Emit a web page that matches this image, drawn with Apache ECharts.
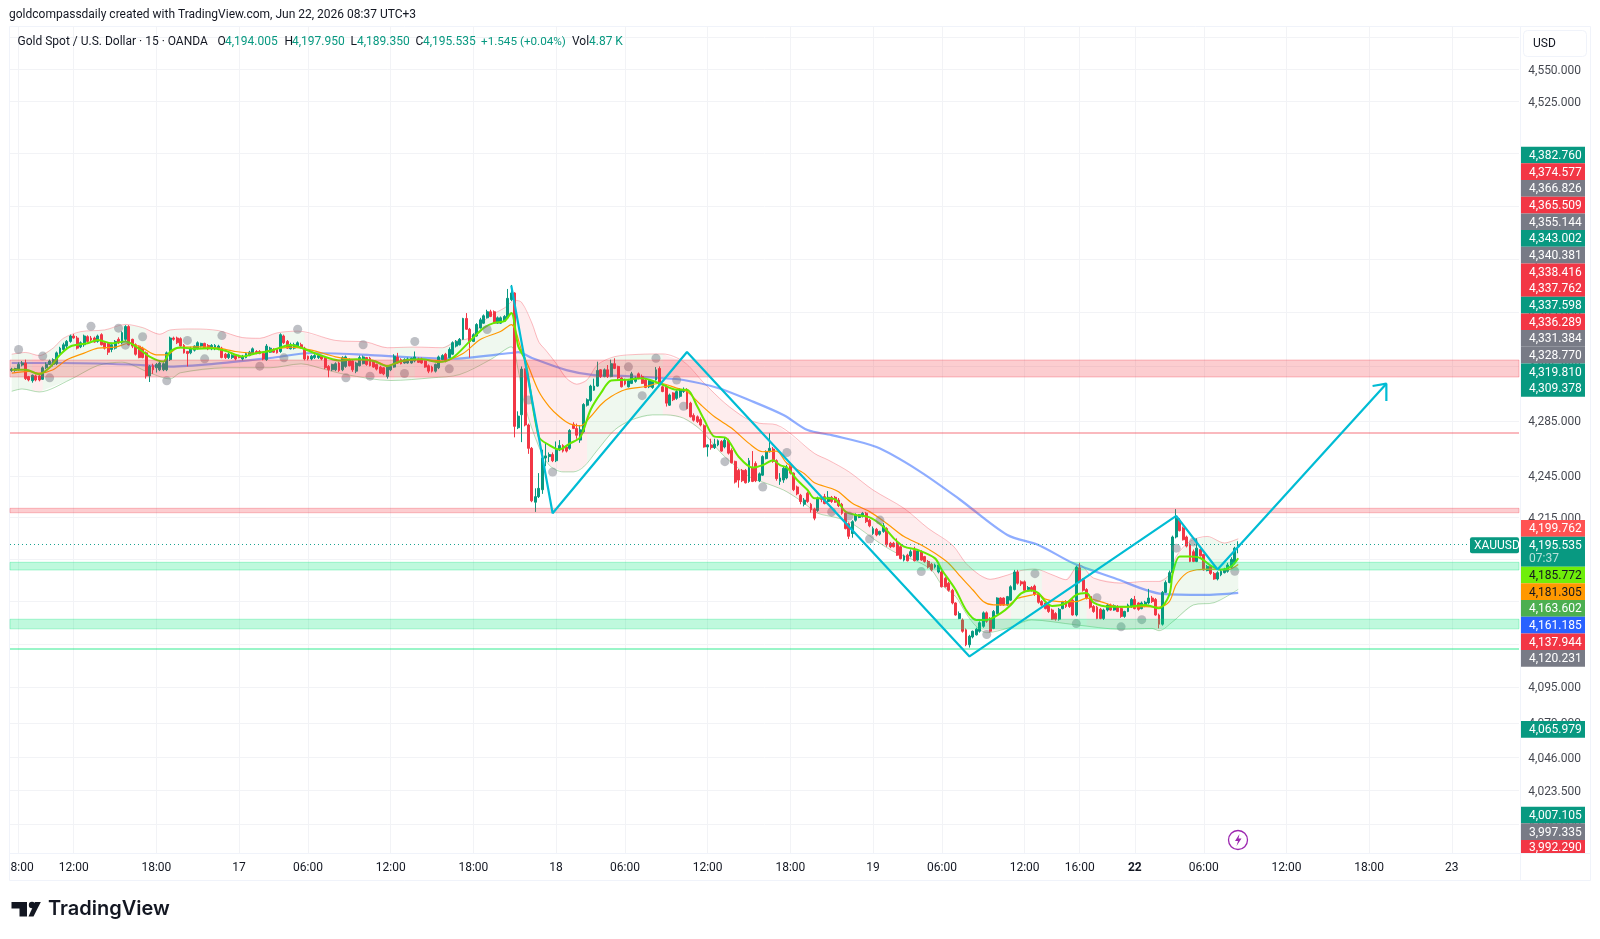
<!DOCTYPE html>
<html>
<head>
<meta charset="utf-8">
<title>XAUUSD 15m</title>
<script src="https://cdn.jsdelivr.net/npm/echarts@6/dist/echarts.min.js"></script>
<style>
html,body{margin:0;padding:0;background:#fff;}
#chart{width:1600px;height:939px;}
</style>
</head>
<body>
<div id="chart"></div>
<script>
// Candles per trading day: [open, close, low, high]
const jun16 = [
[4322,4323,4321,4324],[4322,4323.5,4321,4324],[4322.5,4326.5,4322,4328],[4326,4327.5,4325,4329],[4327.5,4316,4315,4330],
[4317.5,4315,4314,4318],[4314.5,4318.5,4313,4319],[4318,4315,4314,4319],[4318,4315,4314,4319],[4315.5,4324,4315,4325],
[4324,4326.5,4323,4328],[4326.5,4329,4326,4330],[4326.5,4330,4325,4331],[4327,4335,4326,4336],[4334.5,4338.5,4334,4339.5],
[4337.5,4341,4336.5,4342.5],[4340,4343.5,4338.5,4344.5],[4343.5,4347.5,4342.5,4348.5],[4347.5,4346,4345.5,4349],[4346,4338.5,4337.5,4347.5],
[4339.5,4342.5,4338.5,4343.5],[4341,4347.5,4339.5,4348.5],[4347,4343.5,4342.5,4348],[4346,4344.5,4343.5,4347.5],[4346,4343,4342.5,4347],
[4343.5,4347.5,4342.5,4348.5],[4348.5,4341,4340.5,4349.5],[4342.5,4338.5,4337.5,4343.5],[4342,4335.5,4333.5,4342.5],[4337.5,4341,4335.5,4342.5],
[4338.5,4343.5,4337.5,4344.5],[4345,4342.5,4341.5,4346.5],[4342.5,4350,4341.5,4351],[4345,4354.5,4343.5,4355.5],[4354.5,4341,4340.5,4355.5],
[4345,4340,4338.5,4345.5],[4341,4334,4333,4342],[4340,4331.5,4331,4340.5],[4338.5,4331.5,4331,4339.5],[4335,4318,4316,4336],
[4318,4325,4313.5,4326],[4325.5,4322.5,4319.5,4327],[4324,4326.5,4320.5,4327.5],[4322.5,4327.5,4321.5,4328.5],[4322.5,4327,4321.5,4328],
[4322.5,4335,4321.5,4336],[4330,4346,4329,4347],[4346,4345,4344,4347],[4346,4342.5,4341.5,4347],[4345.5,4340,4339.5,4346.5],
[4340.5,4335,4334.5,4341.5],[4336,4334.5,4325,4336.5],[4335,4338.5,4334,4339.5],[4337,4340,4336,4340.5],[4338.5,4342.5,4337.5,4343.5],
[4340,4342,4339,4342.5],[4342,4338.5,4338,4342.5],[4340.5,4338,4337,4341.5],[4338,4340.5,4337,4341.5],[4338,4340.5,4337,4341.5],
[4338,4340,4337,4341],[4338.5,4331.5,4331,4339.5],[4334,4331.5,4330.5,4335],[4331.5,4334,4330.5,4335],[4331.5,4333,4330.5,4334],
[4333,4330.5,4329.5,4334]
];
const jun17 = [
[4332.5,4331.5,4331,4333.5],[4330.5,4332.5,4329.5,4333.5],[4331.5,4334.5,4331,4335.5],[4333,4335.5,4332.5,4336.5],[4334.5,4338,4334,4339],
[4336,4334.5,4334,4337],[4336,4334.5,4334,4337],[4334.5,4330.5,4329.5,4335],[4330,4340,4329,4341.5],[4335.5,4338.5,4335,4339.5],
[4337.5,4335.5,4335,4338.5],[4337.5,4335,4334.5,4338.5],[4336,4348.5,4335,4349.5],[4347.5,4342.5,4341.5,4348.5],[4343.5,4338.5,4338,4344.5],
[4338,4341,4337.5,4342.5],[4338.5,4341,4337.5,4342.5],[4340,4342.5,4339,4343.5],[4341,4338.5,4338,4342.5],[4338.5,4330.5,4329.5,4339.5],
[4332.5,4330.5,4329.5,4333],[4330.5,4332.5,4329.5,4333.5],[4331.5,4333,4330.5,4334],[4331.5,4333,4330.5,4334],[4332.5,4330.5,4329.5,4333.5],
[4331.5,4324,4323,4332.5],[4325,4322.5,4317,4326],[4322.5,4326.5,4321.5,4327],[4322.5,4327,4321.5,4328],[4327.5,4322,4321,4328.5],
[4322.5,4331.5,4321.5,4332.5],[4325,4332,4324,4333],[4330,4325.5,4325,4331],[4329,4322.5,4321,4329.5],[4321.5,4327.5,4320,4328.5],
[4325.5,4331.5,4325,4333],[4327,4332,4326.5,4333],[4331.5,4326.5,4325.5,4332],[4331,4325.5,4325,4332],[4329,4324.5,4324,4329.5],
[4326.5,4323,4322,4327],[4324.5,4320,4319.5,4325.5],[4324,4319.5,4318.5,4324.5],[4317.5,4325,4316,4326],[4322.5,4325,4321.5,4326],
[4324.5,4332.5,4324,4334],[4332,4327.5,4327,4335],[4330,4327,4326.5,4331],[4327.5,4330,4327,4331],[4327.5,4330.5,4327,4331.5],
[4327.5,4331,4327,4331.5],[4329,4332,4328,4336],[4330.5,4328,4327.5,4331.5],[4330.5,4327.5,4327,4331.5],[4329,4324.5,4324,4329.5],
[4325.5,4321.5,4320,4326.5],[4324.5,4321.5,4320.5,4325.5],[4321.5,4326.5,4320.5,4327],[4324,4332,4323,4333],[4330,4333,4329.5,4334],
[4334,4329,4328,4335],[4331.5,4337.5,4331,4339],[4334,4342.5,4333.5,4343.5],[4340,4343.5,4339,4344.5],[4341,4345,4340.5,4346],
[4345,4360.5,4344.5,4361],[4360.5,4352.5,4352,4364.5],[4352.5,4343.5,4331.5,4353.5],[4343.5,4348.5,4343,4349.5],[4347.5,4356,4347,4357],
[4353.5,4359.5,4353,4361],[4357,4362.5,4356.5,4363.5],[4361,4365.5,4360.5,4367],[4365.5,4362,4361.5,4367],[4365.5,4357,4356.5,4366.5],
[4357,4361,4356.5,4362],[4357,4361,4356.5,4362],[4358.5,4362,4358,4363],[4361,4375.5,4360.5,4382.5],[4374.5,4379.5,4373.5,4385.5],
[4379.5,4281,4273,4380],[4280,4288.5,4279,4292],[4289.5,4323,4269.5,4325],[4323,4282,4281,4323.5],[4282,4265,4261,4283],
[4265,4227,4226,4266],[4226,4230,4219,4236],[4230,4236,4229,4247],[4235,4258,4232,4264],[4258,4259.5,4252,4269],
[4259,4260.5,4255,4262],[4260.5,4256,4255,4262]
];
const jun18 = [
[4256,4264,4255,4270],[4264,4267,4263,4271],[4267,4263,4262,4268],[4266,4263,4262,4267],[4265,4278,4264,4279],
[4282.5,4279.5,4279,4284],[4279.5,4274.5,4272,4283],[4271,4278.5,4269,4282],[4277,4297,4276,4298],[4296.5,4300.5,4295.5,4301.5],
[4300,4310.5,4299,4311.5],[4307.5,4310.5,4307,4316],[4310.5,4322,4310,4328.5],[4322.5,4317.5,4316.5,4323],[4317.5,4322.5,4317,4323.5],
[4322.5,4317.5,4316.5,4326],[4317.5,4327,4317,4330],[4327,4323.5,4323,4331],[4325,4316.5,4315.5,4325.5],[4316.5,4310,4309.5,4317],
[4315,4312,4311,4316],[4310,4314.5,4309.5,4315.5],[4312.5,4319.5,4312,4321],[4314,4316.5,4313,4317.5],[4319.5,4316.5,4315.5,4320.5],
[4317.5,4312.5,4312,4319],[4315,4309.5,4309,4316],[4310,4314.5,4309,4315.5],[4309.5,4314,4308.5,4315],[4315,4322.5,4314.5,4324.5],
[4323.5,4311.5,4311,4325],[4310,4306.5,4306,4311],[4310,4298,4295.5,4311],[4296.5,4304,4296,4305],[4305.5,4300.5,4299.5,4306],
[4301.5,4306.5,4300.5,4307.5],[4303,4308,4302,4309],[4306.5,4308,4305.5,4309.5],[4307.5,4294,4293.5,4309],[4298,4288,4287.5,4299],
[4289,4285.5,4284.5,4290.5],[4288,4284.5,4283.5,4289],[4286,4282,4281,4287.5],[4281.5,4266,4265.5,4282.5],[4266,4267.5,4259,4268],
[4267.5,4265.5,4264,4272],[4265.5,4268,4264.5,4272],[4267.5,4270.5,4266.5,4271.5],[4270,4263,4262.5,4271],[4266,4271,4265,4272.5],
[4270.5,4261.5,4260.5,4272],[4263.5,4254.5,4254,4265],[4255.5,4240.5,4239.5,4256],[4249,4242,4236.5,4250],[4249,4241.5,4240.5,4250],
[4249,4240,4239.5,4250],[4241,4256,4240,4258],[4251,4241,4240.5,4263],[4254,4241.5,4240.5,4255.5],[4241.5,4246.5,4240.5,4247.5],
[4245.5,4259,4245,4260],[4257.5,4262.5,4257,4263.5],[4262.5,4265,4262,4276],[4264.5,4255.5,4254.5,4266],[4256,4243,4241.5,4257],
[4241,4243.5,4238.5,4247],[4242,4250.5,4240,4252],[4243.5,4251.5,4242.5,4253],[4253,4247,4246,4254.5],[4247,4235,4234,4247.5],
[4237,4232,4231,4238],[4231,4226.5,4224.5,4232],[4224.5,4227.5,4223,4229],[4232.5,4226.5,4225.5,4233.5],[4224.5,4220.5,4218.5,4225.5],
[4221,4214.5,4213,4222],[4220,4229,4219,4230],[4229,4228,4226,4230],[4230,4225,4224.5,4232],[4226.5,4229.5,4225.5,4234],
[4229.5,4226.5,4225.5,4230.5],[4229.5,4226,4225.5,4230.5],[4227.5,4223.5,4222.5,4229],[4224.5,4218,4217,4225.5],[4218,4207,4206.5,4219],
[4210.5,4201.5,4199.5,4211.5],[4203.5,4212,4200.5,4213],[4213,4217,4212,4218],[4215,4217,4214.5,4217.5],[4216,4218,4215,4219],
[4218,4212,4211,4219],[4213,4209,4208,4214]
];
const jun19 = [
[4203.5,4207,4202.5,4208.5],[4206.5,4202.5,4201.5,4207.5],[4203,4205,4202,4205.5],[4205,4209,4204,4211],[4207,4195.5,4194,4208],
[4196.5,4194,4193,4197.5],[4196.5,4194,4193.5,4197.5],[4196.5,4188,4187.5,4200],[4194,4185.5,4185,4195],[4184.5,4187.5,4183.5,4188.5],
[4188,4184,4183.5,4189],[4187.5,4190.5,4186.5,4192],[4191.5,4184,4183.5,4194],[4184.5,4191,4184,4192],[4190.5,4184.5,4184,4191.5],
[4187,4183.5,4182.5,4187.5],[4183.5,4179.5,4178.5,4184.5],[4181.5,4177.5,4176.5,4182.5],[4179.5,4181,4178.5,4182],[4176,4181,4175,4182],
[4176,4165.5,4165,4177],[4171.5,4165.5,4165,4172.5],[4168,4163,4162,4169],[4163,4154,4153,4164],[4154,4145.5,4145,4154.5],
[4143,4146.5,4142.5,4148],[4142,4134,4133,4143],[4135,4124.5,4123.5,4136],[4124.5,4130.5,4122.5,4131.5],[4130,4134,4129,4134.5],
[4131.5,4135.5,4131,4136.5],[4134,4140,4133,4141],[4137.5,4147,4136.5,4148],[4147,4141,4140,4148],[4143,4134,4133,4144],
[4136,4148,4135.5,4149],[4146.5,4157.5,4146,4158],[4157.5,4152.5,4152,4158],[4157.5,4152.5,4152,4158],[4152.5,4158.5,4152,4159],
[4156,4165.5,4155.5,4166.5],[4163.5,4176,4163,4177.5],[4176,4168,4167,4177.5],[4169,4167.5,4166,4170],[4169,4163,4162.5,4170],
[4163.5,4165,4162.5,4166],[4165,4163,4162,4166],[4166,4160,4159,4167],[4160.5,4154.5,4153.5,4161],[4155,4152.5,4152,4156],
[4154,4150,4149.5,4154.5],[4152.5,4148,4147,4153.5],[4149,4142.5,4142,4150],[4146.5,4142.5,4141.5,4147.5],[4142.5,4149.5,4141.5,4150.5],
[4150,4154.5,4149.5,4155.5],[4155,4151.5,4150.5,4156],[4155,4151.5,4150.5,4156],[4156,4145.5,4145,4157],[4145.5,4179.5,4144.5,4180.5],
[4179,4169.5,4168,4182.5],[4170.5,4163,4162,4171.5],[4163.5,4157.5,4156.5,4164.5],[4158.5,4151,4150,4159.5],[4151.5,4148,4147,4152.5],
[4151,4143,4142.5,4152],[4149.5,4143,4142.5,4150.5],[4143,4149,4142,4150],[4149,4152.5,4148,4153.5],[4152.5,4149,4148.5,4153.5],
[4149,4152,4148.5,4153],[4151.5,4148,4147.5,4152.5],[4150,4144.5,4143.5,4151],[4144.5,4148,4143.5,4148.5],[4148,4152.5,4147.5,4153.5],
[4151.5,4156.5,4150.5,4157.5]
];
const jun22 = [
[4156.5,4150,4149.5,4159],[4154,4149.5,4148.5,4154.5],[4150,4154,4149.5,4155],[4152,4154.5,4151,4155.5],[4154,4157.5,4153,4164],
[4157.5,4155,4154,4159],[4156.5,4145.5,4145,4157.5],[4145.5,4139,4136,4146.5],[4139,4161.5,4138,4162.5],[4161.5,4168.5,4161,4170],
[4168.5,4175.5,4168,4177],[4175.5,4201,4175,4202],[4201,4214.5,4200,4221],[4213,4205.5,4205,4214.5],[4207.5,4199,4198.5,4208.5],
[4201,4194.5,4193.5,4202],[4195.5,4183.5,4183,4196.5],[4190.5,4183.5,4183,4192],[4183.5,4193,4183,4200],[4192,4187.5,4187,4193],
[4188.5,4177.5,4177,4189],[4177,4180,4176.5,4181],[4180,4175,4174,4181],[4175,4171,4170.5,4176],[4171,4175.5,4170,4176.5],
[4174,4176.5,4173,4177.5],[4175.5,4178,4175,4179],[4176.5,4181,4175.5,4182.5],[4179.5,4185,4178.5,4186.5],[4182.5,4193,4181.5,4194],
[4194.005,4195.535,4189.35,4197.95]
];

// Moving averages and envelope read at selected bars: [bar slot, price]
const fastMa = [[0,4322.5],[4,4322.5],[8,4319.3],[11,4324.2],[14,4333.5],[17,4339.7],[22,4342.1],[25,4344.6],[29,4342.1],[33,4343.4],[36,4339.7],[40,4332.3],[44,4328.6],[46,4336],[49,4339],[53,4338],[58,4338.5],[62,4336.5],[67,4332.3],[71,4334.7],[75,4336.4],[81,4340.8],[84,4338.8],[89,4333.8],[95,4329.4],[100,4330.2],[105,4329],[109,4325.2],[113,4329],[119,4330.2],[124,4328.2],[128,4331.4],[133,4343.7],[137,4353.5],[140,4357.2],[143,4358.5],[145,4364.6],[147,4340],[149,4329.8],[153,4273.5],[156,4267.4],[159,4264.2],[162,4268.6],[165,4273],[168,4293],[171,4305.3],[174,4314.6],[178,4315.1],[183,4316.3],[188,4312.6],[193,4307.8],[196,4307.8],[199,4295.5],[201,4285.8],[204,4273.5],[207,4273],[211,4258.9],[215,4251],[218,4252.8],[221,4256.4],[223,4252.8],[225,4251],[228,4242],[231,4234.8],[233,4228.8],[236,4228.8],[239,4228],[242,4219.2],[245,4216.8],[249,4215.1],[253,4208.4],[256,4200.1],[259,4194.1],[263,4191.7],[268,4185.7],[270,4177.4],[274,4163.2],[277,4149],[280,4142],[283,4142],[287,4146.7],[290,4152.6],[293,4160.8],[296,4162.8],[298,4161],[300,4155],[302,4151.9],[306,4153.8],[309,4159.8],[312,4161],[314,4154.3],[319,4151.4],[324,4151.4],[329,4152.6],[333,4150.2],[336,4159.8],[337,4175.2],[339,4187.1],[342,4187.1],[345,4186],[348,4180.5],[351,4177.6],[354,4180],[356,4185.772]];
const midMa = [[0,4320],[5,4321.3],[8,4320],[12,4322.5],[16,4329.9],[21,4334.8],[25,4338.5],[30,4339.2],[34,4342.1],[38,4338.5],[42,4333.5],[45,4333.5],[48,4338.5],[54,4339.4],[60,4338.5],[65,4336],[71,4334.8],[76,4337.5],[81,4339.3],[87,4337],[94,4332.1],[99,4330.2],[105,4329.4],[109,4325.7],[114,4329],[119,4330.2],[125,4329],[131,4334.6],[136,4344.9],[142,4351],[145,4356],[148,4337],[150,4324.9],[153,4306.5],[156,4295.5],[159,4288],[162,4282.8],[165,4281.3],[168,4288],[171,4296.8],[174,4302.8],[178,4307.8],[184,4310.2],[188,4312.6],[193,4309],[196,4306.5],[200,4296.8],[204,4288],[209,4279.6],[214,4268.6],[218,4262.5],[222,4263],[225,4254.1],[230,4246.8],[233,4240],[238,4235.9],[240,4233.5],[244,4225.2],[249,4219.2],[254,4210.7],[259,4201.3],[264,4195.3],[268,4189.3],[272,4182.1],[275,4173.8],[279,4163.2],[282,4155],[285,4152.6],[289,4152.6],[292,4157.3],[296,4159.6],[298,4160.5],[300,4156.7],[304,4155],[309,4155],[312,4157.4],[316,4155],[322,4151],[329,4151.4],[333,4151],[336,4155],[338,4166.9],[341,4175.2],[344,4177.6],[348,4178.1],[353,4177.6],[356,4181.305]];
const slowMa = [[0,4327.5],[14,4327.5],[34,4326.4],[46,4324.9],[58,4326.7],[75,4331.2],[87,4334.9],[104,4333.4],[127,4330.7],[145,4334.9],[147,4335.6],[151,4331.2],[161,4322.3],[169,4318.6],[177,4318],[188,4316.5],[195,4315],[205,4309.1],[214,4300.3],[224,4289.3],[231,4278.3],[238,4274.6],[251,4265.9],[263,4249.2],[275,4228.3],[289,4202.4],[298,4195.3],[308,4182.4],[320,4171.7],[334,4160.4],[346,4159.7],[356,4161.185]];
const upperBand = [[0,4334],[4,4335.3],[8,4333],[12,4338.5],[15,4345.8],[20,4350.7],[27,4352],[33,4356.1],[38,4353.7],[43,4348.8],[46,4352],[53,4352.7],[60,4351.5],[67,4346.3],[72,4345.8],[77,4349.8],[83,4351.1],[94,4344.2],[103,4343],[109,4338.8],[117,4339.3],[125,4338.8],[129,4343.7],[133,4346.2],[138,4360.9],[143,4368.3],[146,4374],[148,4372.5],[151,4357],[153,4343],[155,4337],[158,4327.3],[161,4316.3],[164,4311.9],[167,4315.1],[170,4326.1],[175,4332.2],[182,4333.9],[189,4334.2],[195,4328.5],[201,4312.6],[207,4298],[213,4287],[217,4283.3],[222,4282.1],[233,4261.3],[237,4256.5],[243,4248],[250,4234.8],[259,4221.6],[266,4207.2],[273,4195.3],[277,4182.1],[281,4173.8],[284,4170.8],[289,4173.8],[293,4177.1],[297,4178.1],[302,4174],[306,4170.5],[309,4180],[310,4181],[314,4171.7],[322,4168.1],[329,4169.3],[333,4169.3],[336,4174],[338,4187.1],[342,4197.9],[347,4201.4],[352,4196.7],[356,4199.762]];
const lowerBand = [[0,4306.7],[3,4308.4],[8,4306.2],[17,4315.3],[25,4325.7],[32,4328.1],[40,4320.3],[46,4315.8],[49,4320.3],[62,4324],[75,4324],[84,4326.9],[91,4322.7],[97,4319],[110,4314.6],[122,4316.6],[130,4319],[139,4330.1],[145,4339.5],[147,4322.4],[149,4295.5],[153,4266.2],[156,4252.8],[160,4247.9],[163,4247.9],[166,4251.5],[170,4263.7],[175,4278.4],[180,4285.8],[186,4289.4],[190,4289.4],[195,4287],[200,4278.4],[206,4261.3],[211,4250.3],[215,4243],[218,4240.5],[224,4234.8],[228,4228.8],[231,4223.3],[234,4218],[239,4215.1],[243,4211.9],[246,4207.2],[252,4196.5],[257,4189.3],[263,4183.3],[267,4177.4],[270,4166.7],[274,4158.5],[277,4146.7],[280,4137.3],[283,4133],[289,4136.1],[296,4142],[309,4138.5],[322,4135.4],[331,4136],[333,4134.4],[337,4140.8],[343,4152.6],[349,4154.2],[356,4163.602]];

// Stretches of the envelope shaded by trend: [from slot, to slot, trend]
const bandTrend = [[0,6,'up'],[6,9,'down'],[9,39,'up'],[39,45,'down'],[45,61,'up'],[61,78,'down'],[78,85,'up'],[85,111,'down'],[111,117,'up'],[117,124,'down'],[124,146,'up'],[146,167,'down'],[167,189,'up'],[189,290,'down'],[290,299,'up'],[299,309,'down'],[309,312,'up'],[312,334,'down'],[334,356,'up']];

// Grey markers: [slot, price]
const greyDots = [[2,4337.5],[9,4332.6],[11,4316.6],[23,4354.7],[31,4353.3],[33,4340.7],[38,4346.9],[45,4314.4],[51,4344.2],[56,4330.6],[61,4347.8],[72,4325.2],[79,4331.3],[83,4352.5],[97,4316.6],[102,4341],[104,4317.8],[114,4319.8],[117,4343.4],[127,4323.2],[138,4352.3],[150,4300.3],[157,4247.8],[179,4324.7],[183,4303.5],[187,4331],[193,4315],[195,4295.7],[207,4255.3],[218,4237],[225,4262],[238,4219],[243,4216],[249,4199.6],[252,4213.1],[264,4176.3],[283,4131.7],[297,4174.8],[309,4139.4],[315,4157.7],[322,4137.1],[328,4142.2],[338,4193],[343,4197.5],[355,4176.5]];

// Hand-drawn zigzag and arrow
const zigzag = [[145,4385],[157,4218],[196,4335.6],[278,4116.3],[338,4216.2],[350,4177.8],[399,4312.3]];
const arrowHead = [[395,4310.6],[399,4312.3],[399,4299.6]];

// Supply and demand levels
const redZones = [[4329.7,4317.2],[4221.6,4218.4]];
const greenZones = [[4182.9,4177.4],[4142.5,4135.7]];
const redLevel = 4276.4;
const greenLevel = 4121.7;
const lastPrice = 4195.535;

// Axis ticks
const priceTicks = [4575,4550,4525,4485,4445,4405,4365,4325,4285,4245,4215,4185,4155,4125,4095,4070,4046,4023.5,4000];
const timeTickSlots = [2,18,42,66,86,110,134,158,178,202,226,250,270,294,310,326,346,370,394,418];
const timeTickLabels = ['8:00','12:00','18:00','17','06:00','12:00','18:00','18','06:00','12:00','18:00','19','06:00','12:00','16:00','22','06:00','12:00','18:00','23'];
const slotCount = 438;

// Right-hand value tags, grouped by stack
const upperTagValues = ['4,382.760','4,374.577','4,366.826','4,365.509','4,355.144','4,343.002','4,340.381','4,338.416','4,337.762','4,337.598','4,336.289','4,331.384','4,328.770','4,319.810','4,309.378'];
const upperTagColors = ['g','r','n','r','n','g','n','r','r','g','r','n','n','g','g'];
const middleTagValues = ['4,199.762','4,185.772','4,181.305','4,163.602','4,161.185','4,137.944','4,120.231'];
const middleTagColors = ['#ff5252','#6fee0a','#ff9800','#4caf50','#2962ff','#f23645','#787b86'];
const middleTagInk = ['#fff','#131722','#131722','#fff','#fff','#fff','#fff'];
const lowerTagValues = ['4,007.105','3,997.335','3,992.290'];
const lowerTagColors = ['g','n','r'];
const singleTag = '4,065.979';

const UP = '#089981', DOWN = '#f23645', NEUTRAL = '#787b86', INK = '#131722';
const FONT = 'Roboto, sans-serif';
const shade = {g: UP, r: DOWN, n: NEUTRAL};

const candles = [].concat(jun16, jun17, jun18, jun19, jun22);
const slots = Array.from({length: slotCount}, (_, i) => String(i));
const labelBySlot = new Map(timeTickSlots.map((s, i) => [s, timeTickLabels[i]]));
labelBySlot.delete(2);
labelBySlot.set(3, '8:00');

const fmtPrice = v => v.toFixed(3).replace(/\B(?=(\d{3})(?!\d))/, ',');

function bandAt(points, slot) {
  for (let i = 1; i < points.length; i++) {
    const [a, pa] = points[i - 1], [b, pb] = points[i];
    if (slot >= a && slot <= b) return pa + (pb - pa) * (slot - a) / (b - a);
  }
  return points[points.length - 1][1];
}
function renderBandFill(params, api) {
  const [from, to, trend] = bandTrend[params.dataIndex];
  const inner = pts => pts.filter(p => p[0] > from && p[0] < to);
  const top = [[from, bandAt(upperBand, from)], ...inner(upperBand), [to, bandAt(upperBand, to)]];
  const bottom = [[from, bandAt(lowerBand, from)], ...inner(lowerBand), [to, bandAt(lowerBand, to)]];
  const points = top.concat(bottom.reverse()).map(p => api.coord(p));
  return {
    type: 'polygon',
    shape: {points},
    style: {fill: trend === 'up' ? 'rgba(76,175,80,0.09)' : 'rgba(242,54,69,0.09)'}
  };
}

function tag(y, h, text, fill, ink) {
  return [
    {type: 'rect', z: 100, shape: {x: 1521, y, width: 64, height: h}, style: {fill}},
    {type: 'text', z: 101, style: {x: 1529, y: y + h / 2 + 1, text, fill: ink || '#fff', font: '12px ' + FONT, textVerticalAlign: 'middle'}}
  ];
}
function label(x, y, text, fill, font) {
  return {type: 'text', z: 101, style: {x, y, text, fill, font: font || ('12px ' + FONT), textVerticalAlign: 'middle'}};
}

const TAG_H = 16.67;
const graphics = [];
// frame
graphics.push({type: 'rect', z: 0, shape: {x: 9.5, y: 26.5, width: 1581, height: 854}, style: {fill: 'none', stroke: '#f0f3fa'}});
graphics.push({type: 'line', z: 0, shape: {x1: 1520.5, y1: 26, x2: 1520.5, y2: 880}, style: {stroke: '#f0f3fa'}});
graphics.push({type: 'line', z: 0, shape: {x1: 10, y1: 853.5, x2: 1590, y2: 853.5}, style: {stroke: '#f0f3fa'}});
// header
graphics.push(label(9, 15, 'goldcompassdaily created with TradingView.com, Jun 22, 2026 08:37 UTC+3', INK));
graphics.push(label(17.5, 42, 'Gold Spot / U.S. Dollar \u00b7 15 \u00b7 OANDA', INK));
[[217.5,'O'],[284.5,'H'],[350.5,'L'],[415.5,'C'],[572,'Vol']].forEach(([x, t]) => graphics.push(label(x, 42, t, INK)));
[[225,'4,194.005'],[292,'4,197.950'],[357,'4,189.350'],[423,'4,195.535'],[481,'+1.545 (+0.04%)', '11.7px ' + FONT],[589,'4.87 K']].forEach(([x, t, f]) => graphics.push(label(x, 42, t, UP, f)));
// currency button
graphics.push({type: 'rect', z: 102, shape: {x: 1523.5, y: 30.5, width: 63, height: 26, r: 4}, style: {fill: '#fff', stroke: '#f0f3fa'}});
graphics.push(Object.assign(label(1533, 43.5, 'USD', INK), {z: 103}));
// value tags
upperTagValues.forEach((v, i) => graphics.push(...tag(146.7 + i * TAG_H, TAG_H, v, shade[upperTagColors[i]])));
graphics.push(...tag(520, TAG_H, middleTagValues[0], middleTagColors[0], middleTagInk[0]));
graphics.push({type: 'rect', z: 100, shape: {x: 1521, y: 536.7, width: 64, height: 30}, style: {fill: UP}});
graphics.push(label(1529, 546, fmtPrice(lastPrice), '#fff'));
graphics.push(label(1529, 559, '07:37', 'rgba(255,255,255,0.7)'));
middleTagValues.slice(1).forEach((v, i) => graphics.push(...tag(566.7 + i * TAG_H, TAG_H, v, middleTagColors[i + 1], middleTagInk[i + 1])));
graphics.push(...tag(721, TAG_H, singleTag, UP));
lowerTagValues.forEach((v, i) => graphics.push(...tag(806.7 + i * TAG_H, i === 2 ? 13 : TAG_H, v, shade[lowerTagColors[i]])));
// symbol flag beside the last price
graphics.push({type: 'rect', z: 100, shape: {x: 1470, y: 537.3, width: 49, height: 16, r: 2}, style: {fill: UP}});
graphics.push(label(1474, 546, 'XAUUSD', '#fff'));
// realtime badge
graphics.push({type: 'circle', z: 50, shape: {cx: 1238, cy: 840, r: 9.5}, style: {fill: '#fff', stroke: '#9c27b0', lineWidth: 1.3}});
graphics.push({type: 'polygon', z: 51, shape: {points: [[1239.5,834],[1235,841],[1238,841],[1236.5,846],[1241.5,838.5],[1238.5,838.5]]}, style: {fill: '#9c27b0'}});
// wordmark
graphics.push({type: 'polygon', z: 10, shape: {points: [[11.5,902],[27,902],[27,916.5],[19.5,916.5],[19.5,908.5],[11.5,908.5]]}, style: {fill: INK}});
graphics.push({type: 'circle', z: 10, shape: {cx: 32, cy: 905, r: 3.2}, style: {fill: INK}});
graphics.push({type: 'polygon', z: 10, shape: {points: [[33.5,916.5],[40.8,902],[35,902],[28.5,916.5]]}, style: {fill: INK}});
graphics.push({type: 'text', z: 10, style: {x: 48, y: 909, text: 'TradingView', fill: INK, font: '600 20px Inter, sans-serif', textVerticalAlign: 'middle'}});

const chart = echarts.init(document.getElementById('chart'), null, {renderer: 'canvas'});
const lineSeries = (name, data, color, width, z, smooth) => ({
  name, type: 'line', data, z, smooth: smooth === undefined ? 0.3 : smooth, showSymbol: false, silent: true,
  lineStyle: {color, width}, itemStyle: {color}
});

chart.setOption({
  animation: false,
  backgroundColor: '#ffffff',
  grid: {left: 10, right: 81, top: 26, bottom: 86, containLabel: false},
  xAxis: {
    type: 'category', data: slots, boundaryGap: true,
    axisLine: {show: false}, axisTick: {show: false}, splitLine: {show: false},
    axisLabel: {
      show: true, margin: 9, interval: i => labelBySlot.has(i), color: INK, fontSize: 12, fontFamily: FONT, hideOverlap: false,
      formatter: (_, i) => labelBySlot.get(i) === '22' ? '{b|22}' : (labelBySlot.get(i) || ''),
      rich: {b: {fontWeight: 'bold', fontSize: 12, color: INK, fontFamily: FONT}}
    }
  },
  yAxis: {
    type: 'log', logBase: Math.E, position: 'right', min: 3980.6, max: 4583.5, scale: true,
    axisLine: {show: false}, axisTick: {show: false}, axisLabel: {show: false}, splitLine: {show: false}, minorSplitLine: {show: false}
  },
  series: [
    {
      name: 'Price scale', type: 'scatter', z: 1, symbolSize: 0, silent: true, clip: false,
      data: priceTicks.map(p => [slotCount - 1, p]),
      label: {show: true, position: 'right', distance: 11, offset: [0, 1.5], color: INK, fontSize: 12, fontFamily: FONT, formatter: p => fmtPrice(p.value[1])},
      markLine: {
        silent: true, symbol: 'none', z: 1, label: {show: false},
        lineStyle: {color: '#f2f3f6', width: 1, type: 'solid'},
        data: priceTicks.map(p => ({yAxis: p})).concat(timeTickSlots.map(s => ({xAxis: s})))
      }
    },
    {
      name: 'Envelope fill', type: 'custom', z: 2, silent: true, clip: true,
      renderItem: renderBandFill, data: bandTrend.map(b => [b[0], b[1]]), encode: {x: [0, 1]}
    },
    lineSeries('Upper band', upperBand, 'rgba(242,54,69,0.32)', 1, 3),
    lineSeries('Lower band', lowerBand, 'rgba(76,175,80,0.42)', 1, 3),
    lineSeries('Slow MA', slowMa, 'rgba(41,98,255,0.52)', 2.2, 3),
    {
      name: 'XAUUSD', type: 'candlestick', z: 4, data: candles, barWidth: 2.4, silent: true,
      itemStyle: {color: UP, color0: DOWN, borderColor: UP, borderColor0: DOWN, borderWidth: 1}
    },
    lineSeries('Mid MA', midMa, '#ff9800', 1.2, 5),
    lineSeries('Fast MA', fastMa, '#66e800', 2, 5),
    {
      name: 'Markers', type: 'scatter', z: 6, symbolSize: 9, silent: true, data: greyDots,
      itemStyle: {color: 'rgba(120,123,134,0.6)'}
    },
    {
      name: 'Levels', type: 'scatter', z: 8, symbolSize: 0, silent: true, data: [[0, lastPrice]],
      markArea: {
        silent: true, z: 8,
        data: redZones.map(([a, b]) => [{yAxis: a, itemStyle: {color: 'rgba(242,54,69,0.25)', borderColor: 'rgba(242,54,69,0.3)', borderWidth: 1}}, {yAxis: b}])
          .concat(greenZones.map(([a, b]) => [{yAxis: a, itemStyle: {color: 'rgba(0,230,118,0.25)', borderColor: 'rgba(0,230,118,0.3)', borderWidth: 1}}, {yAxis: b}]))
      },
      markLine: {
        silent: true, symbol: 'none', z: 8, label: {show: false},
        data: [
          {yAxis: redLevel, lineStyle: {color: 'rgba(242,54,69,0.35)', width: 2, type: 'solid'}},
          {yAxis: greenLevel, lineStyle: {color: 'rgba(0,230,118,0.4)', width: 2, type: 'solid'}},
          {yAxis: lastPrice, lineStyle: {color: '#1aa391', width: 1, type: [1, 3]}}
        ]
      }
    },
    lineSeries('Zigzag', zigzag, '#00bcd4', 2.2, 9, false),
    lineSeries('Arrow head', arrowHead, '#00bcd4', 2.2, 9, false)
  ],
  graphic: {elements: graphics}
});
</script>
</body>
</html>
